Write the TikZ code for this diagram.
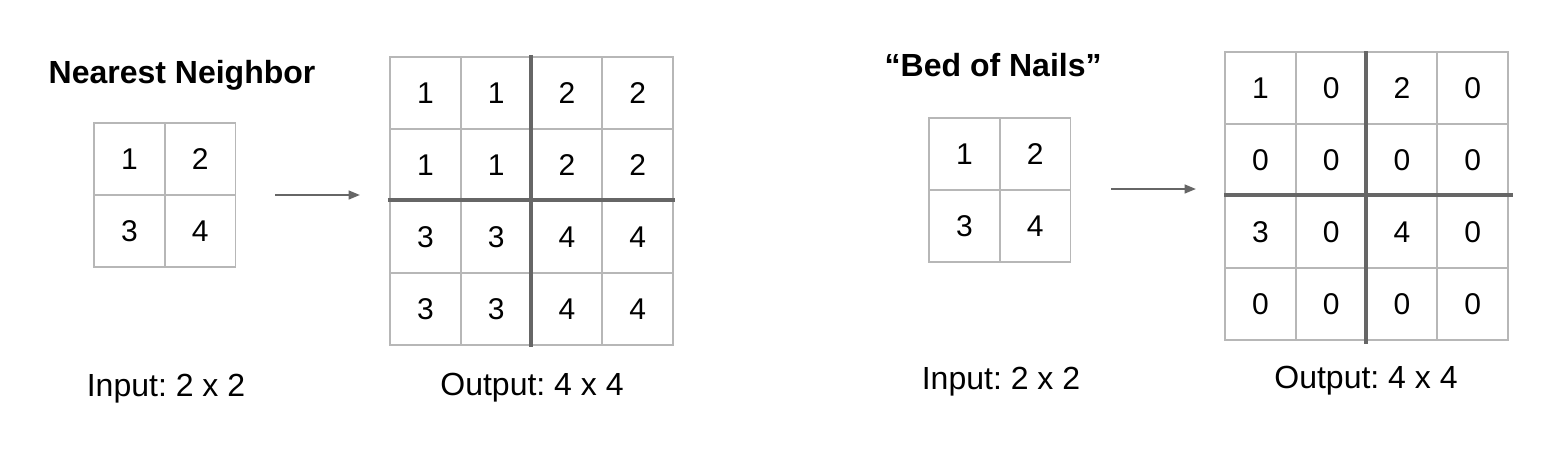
\documentclass[tikz,border=0pt]{standalone}
\usepackage{fontspec}
\setmainfont{Liberation Sans}
\usetikzlibrary{arrows.meta}
\frenchspacing
\definecolor{cellgray}{HTML}{B7B7B7}
\definecolor{bargray}{HTML}{666666}
\tikzset{
  cell/.style={draw=cellgray,line width=1.1pt,minimum width=53pt,minimum height=54pt,inner sep=0pt,font=\fontsize{22.5}{27}\selectfont},
  divider/.style={draw=bargray,line width=3pt},
  upsample/.style={draw=bargray,line width=1.6pt,-{Triangle[length=8.5pt,width=6.5pt]}},
  caption/.style={anchor=base,font=\fontsize{24}{29}\selectfont},
  heading/.style={anchor=base west,font=\fontsize{24}{29}\selectfont\bfseries}
}
\begin{document}
\begin{tikzpicture}[x=0.75pt,y=-0.75pt]
  \useasboundingbox[fill=white] (0,0) rectangle (1542,461);
  \node[heading] (nn-title) at (44,83) {Nearest Neighbor};
  \foreach \v [count=\i from 0] in {1,2,3,4} {
    \pgfmathtruncatemacro\r{\i/2}
    \pgfmathtruncatemacro\c{mod(\i,2)}
    \node[cell] (nn-in-\r-\c) at ({94+70.75*(\c+0.5)},{123+72*(\r+0.5)}) {\v};
  }
  \foreach \v [count=\i from 0] in {1,1,2,2,1,1,2,2,3,3,4,4,3,3,4,4} {
    \pgfmathtruncatemacro\r{\i/4}
    \pgfmathtruncatemacro\c{mod(\i,4)}
    \node[cell] (nn-out-\r-\c) at ({390+70.75*(\c+0.5)},{57+72*(\r+0.5)}) {\v};
  }
  \draw[divider] ([yshift=1pt]nn-out-0-2.north west) -- ([yshift=-1pt]nn-out-3-2.south west);
  \draw[divider] ([xshift=-1pt]nn-out-2-0.north west) -- ([xshift=1pt]nn-out-2-3.north east);
  \coordinate (nn-from) at (275,195);
  \coordinate (nn-to) at (360,195);
  \draw[upsample] (nn-from) -- (nn-to);
  \node[caption] (nn-in-label) at (166,396) {Input: 2 x 2};
  \node[caption] (nn-out-label) at (532,395) {Output: 4 x 4};
  \node[heading] (bn-title) at (880,76) {“Bed of Nails”};
  \foreach \v [count=\i from 0] in {1,2,3,4} {
    \pgfmathtruncatemacro\r{\i/2}
    \pgfmathtruncatemacro\c{mod(\i,2)}
    \node[cell] (bn-in-\r-\c) at ({929+70.75*(\c+0.5)},{118+72*(\r+0.5)}) {\v};
  }
  \foreach \v [count=\i from 0] in {1,0,2,0,0,0,0,0,3,0,4,0,0,0,0,0} {
    \pgfmathtruncatemacro\r{\i/4}
    \pgfmathtruncatemacro\c{mod(\i,4)}
    \node[cell] (bn-out-\r-\c) at ({1225+70.75*(\c+0.5)},{52+72*(\r+0.5)}) {\v};
  }
  \draw[divider] (bn-out-0-2.north west) -- ([yshift=-2.5pt]bn-out-3-2.south west);
  \draw[divider] (bn-out-2-0.north west) -- ([xshift=3.5pt]bn-out-2-3.north east);
  \coordinate (bn-from) at (1111,189);
  \coordinate (bn-to) at (1196,189);
  \draw[upsample] (bn-from) -- (bn-to);
  \node[caption] (bn-in-label) at (1001,389) {Input: 2 x 2};
  \node[caption] (bn-out-label) at (1366,388) {Output: 4 x 4};
\end{tikzpicture}
\end{document}
